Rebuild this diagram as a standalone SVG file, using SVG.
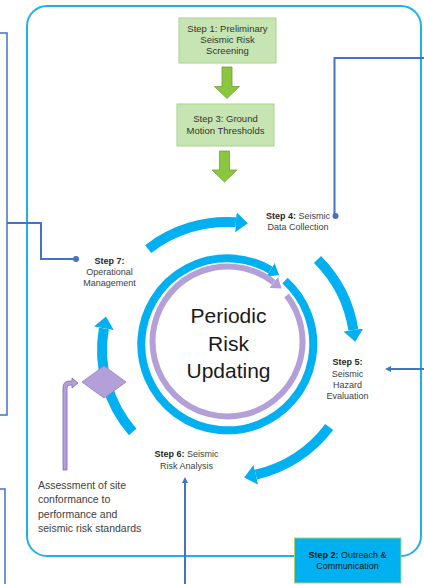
<svg xmlns="http://www.w3.org/2000/svg" width="424" height="584" viewBox="0 0 424 584">
<defs>
<style>
.t{font-family:"Liberation Sans",Arial,sans-serif;font-size:9px;fill:#404040;text-anchor:middle}
.bt{font-size:9.5px;fill:#333}
.b{font-weight:bold;fill:#262626}
.big{font-family:"Liberation Sans",Arial,sans-serif;font-size:21px;fill:#1a1a1a;text-anchor:middle}
.note{font-family:"Liberation Sans",Arial,sans-serif;font-size:10.5px;fill:#404040}
.gbox{fill:#c6e5b3;stroke:#a9d18e;stroke-width:1}
.garrow{fill:#8cc63f;stroke:#6f9f3a;stroke-width:0.8}
.arc{fill:none;stroke:#00b0f0;stroke-width:10;marker-end:url(#bh)}
.ring{fill:none;stroke:#00b0f0;stroke-width:8;marker-end:url(#rh)}
.pring{fill:none;stroke:#b4a0d8;stroke-width:6;marker-end:url(#ph)}
.link{fill:none;stroke:#4472c4;stroke-width:2}
.brk{fill:none;stroke:#4472c4;stroke-width:1.5}
.dot{fill:#4472c4}
</style>
<marker id="bh" markerUnits="userSpaceOnUse" markerWidth="12" markerHeight="20" refX="0" refY="10" orient="auto" viewBox="0 0 12 20"><path d="M0,0 L12,10 L0,20 Z" fill="#00b0f0"/></marker>
<marker id="rh" markerUnits="userSpaceOnUse" markerWidth="10" markerHeight="16" refX="0" refY="8" orient="auto" viewBox="0 0 10 16"><path d="M0,0 L10,8 L0,16 Z" fill="#00b0f0"/></marker>
<marker id="ph" markerUnits="userSpaceOnUse" markerWidth="10" markerHeight="14" refX="0" refY="7" orient="auto" viewBox="0 0 10 14"><path d="M0,0 L10,7 L0,14 Z" fill="#b4a0d8"/></marker>
<marker id="sa" markerUnits="userSpaceOnUse" markerWidth="6" markerHeight="6" refX="1" refY="3" orient="auto" viewBox="0 0 6 6"><path d="M0,0 L6,3 L0,6 Z" fill="#4472c4"/></marker>
</defs>

<g id="frame">
<rect x="27" y="6" width="394" height="550" rx="20" fill="none" stroke="#1fb0e6" stroke-width="2"/>
</g>

<g id="connectors">
<path class="brk" d="M0,33 H7 V415 H0"/>
<path class="brk" d="M0,489 H5 V584"/>
<path class="link" d="M7,223 H41 V259 H74"/>
<circle class="dot" cx="76" cy="259" r="3"/>
<path class="link" d="M424,58 H334.5 V214"/>
<circle class="dot" cx="335.5" cy="216" r="3"/>
<path class="link" d="M424,369 H390" marker-end="url(#sa)"/>
<path class="link" d="M185,584 V482" marker-end="url(#sa)"/>
<path class="garrow" d="M222,67 H232 V86.5 H239.5 L227,98.5 L214.5,86.5 H222 Z"/>
<path class="garrow" d="M219.5,151 H229.5 V170 H237 L224.5,182 L212,170 H219.5 Z"/>
<path class="arc" d="M148.2,249.1 A128,128 0 0 1 235.9,222.3"/>
<path class="arc" d="M317.5,259.5 A128,128 0 0 1 353.4,330"/>
<path class="arc" d="M329.2,427 A128,128 0 0 1 255.8,474.7"/>
<path class="arc" d="M132.7,432 A125,125 0 0 1 103.9,328.3"/>
<path class="ring" d="M285,280.6 A86,86 0 1 1 270.5,270"/>
<path class="pring" d="M286.6,295.3 A75,75 0 1 1 273.7,282.4"/>
<path d="M63,470 V388 Q63,381 70,381 H72 V378 L78,383 L72,388 V385 H70 Q67,385 67,388 V470 Z" fill="#b4a0d8" stroke="#7d68b0" stroke-width="0.8"/>
</g>

<g id="step1">
<rect class="gbox" x="179" y="18" width="97" height="45"/>
<text class="t bt" x="227.5" y="32">Step 1: Preliminary</text>
<text class="t bt" x="227.5" y="43">Seismic Risk</text>
<text class="t bt" x="227.5" y="54">Screening</text>
</g>

<g id="step3">
<rect class="gbox" x="177" y="104" width="97" height="42"/>
<text class="t bt" x="225.5" y="122">Step 3: Ground</text>
<text class="t bt" x="225.5" y="134">Motion Thresholds</text>
</g>

<g id="step4">
<text class="t" x="298" y="219"><tspan class="b">Step 4:</tspan> Seismic</text>
<text class="t" x="298" y="230">Data Collection</text>
</g>

<g id="step5">
<text class="t b" x="347.5" y="365">Step 5:</text>
<text class="t" x="347.5" y="377">Seismic</text>
<text class="t" x="347.5" y="388">Hazard</text>
<text class="t" x="347.5" y="399">Evaluation</text>
</g>

<g id="step6">
<text class="t" x="186.5" y="457"><tspan class="b">Step 6:</tspan> Seismic</text>
<text class="t" x="186.5" y="469">Risk Analysis</text>
</g>

<g id="step7">
<text class="t b" x="109.5" y="264">Step 7:</text>
<text class="t" x="109.5" y="275">Operational</text>
<text class="t" x="109.5" y="286">Management</text>
</g>

<g id="center">
<text class="big" x="228.5" y="322.5">Periodic</text>
<text class="big" x="228.5" y="350.5">Risk</text>
<text class="big" x="228.5" y="378">Updating</text>
</g>

<g id="diamond">
<path d="M104,366 L126,382 L104,398 L82,382 Z" fill="#b4a0d8" stroke="#a08cc8" stroke-width="1"/>
</g>

<g id="assessment">
<text class="note" x="38" y="489">Assessment of site</text>
<text class="note" x="38" y="503.3">conformance to</text>
<text class="note" x="38" y="517.6">performance and</text>
<text class="note" x="38" y="532">seismic risk standards</text>
</g>

<g id="step2">
<rect x="294.5" y="538" width="106.5" height="45" fill="#00b0f0" stroke="#a6d96a" stroke-width="1"/>
<text class="t" x="347.5" y="558" style="fill:#1a1a1a"><tspan class="b" style="fill:#111">Step 2:</tspan> Outreach &amp;</text>
<text class="t" x="347.5" y="569" style="fill:#1a1a1a">Communication</text>
</g>
</svg>
